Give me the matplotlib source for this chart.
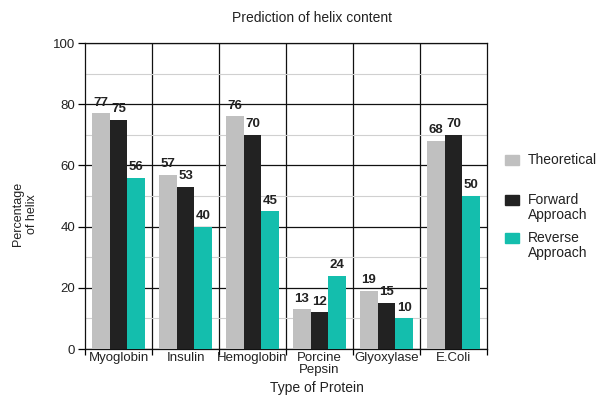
import matplotlib
matplotlib.use('Agg')
import matplotlib.pyplot as plt
from matplotlib.patches import Rectangle
import numpy as np

plt.rcParams['font.family'] = ['Liberation Sans', 'DejaVu Sans']

proteins = ['Myoglobin', 'Insulin', 'Hemoglobin', 'Porcine\nPepsin', 'Glyoxylase', 'E.Coli']
theoretical = [77, 57, 76, 13, 19, 68]
forward = [75, 53, 70, 12, 15, 70]
reverse = [56, 40, 45, 24, 10, 50]

series = [('Theoretical', theoretical, '#c0c0c0'),
          ('Forward\nApproach', forward, '#222222'),
          ('Reverse\nApproach', reverse, '#14bead')]

W, H = 600, 396
fig = plt.figure(figsize=(W / 100, H / 100), dpi=100)
ax = fig.add_axes([85 / W, 1 - 349 / H, 402 / W, 306 / H])

x = np.arange(len(proteins))
w = 0.265
for i, (name, vals, col) in enumerate(series):
    pos = x + (i - 1) * w
    ax.bar(pos, vals, width=w, color=col, zorder=3)
    for p, v in zip(pos, vals):
        ax.annotate(str(v), (p, v), xytext=(0, 5.5), textcoords='offset points',
                    ha='center', va='baseline', fontsize=9.5, fontweight='bold',
                    color='#222222', zorder=4)

ax.set_xlim(-0.5, len(proteins) - 0.5)
ax.set_ylim(0, 100)
ax.set_yticks(range(0, 101, 20))
ax.set_yticks(range(10, 100, 20), minor=True)
ax.yaxis.grid(True, which='major', color='#111111', linewidth=0.9, zorder=1)
ax.yaxis.grid(True, which='minor', color='#d0d0d0', linewidth=0.8, zorder=1)
for b in np.arange(0.5, len(proteins) - 0.5, 1):
    ax.axvline(b, color='#111111', linewidth=0.9, zorder=1)

ax.set_xticks(np.arange(-0.5, len(proteins), 1))
ax.set_xticklabels([])
ax.set_xticks(x, minor=True)
ax.set_xticklabels(proteins, minor=True, fontsize=9.5, color='#222222', linespacing=1.0)
ax.tick_params(axis='x', which='minor', length=0, pad=2)
ax.tick_params(axis='x', which='major', length=4, width=0.9)
ax.tick_params(axis='y', which='major', length=5, width=0.9, labelsize=9.5,
               labelcolor='#222222', pad=2)
ax.tick_params(axis='y', which='minor', length=0)
for s in ax.spines.values():
    s.set_color('#111111')
    s.set_linewidth(0.9)

fig.text(312 / W, 1 - 18 / H, 'Prediction of helix content', fontsize=10,
         color='#222222', ha='center', va='center')
fig.text(317 / W, 1 - 388 / H, 'Type of Protein', fontsize=10,
         color='#222222', ha='center', va='center')
fig.text(25 / W, 1 - 214 / H, 'Percentage\nof helix', fontsize=9, color='#222222',
         ha='center', va='center', rotation=90, linespacing=1.3)

# legend, squares aligned with first text line
leg_y = [160, 200, 238]
for (name, vals, col), py in zip(series, leg_y):
    fig.patches.append(Rectangle((505 / W, 1 - (py + 5) / H), 14 / W, 10 / H,
                                 color=col, transform=fig.transFigure))
    fig.text(528 / W, 1 - (py - 7) / H, name, fontsize=10, color='#222222',
             ha='left', va='top', linespacing=1.05)

plt.savefig('out.png', dpi=100)
